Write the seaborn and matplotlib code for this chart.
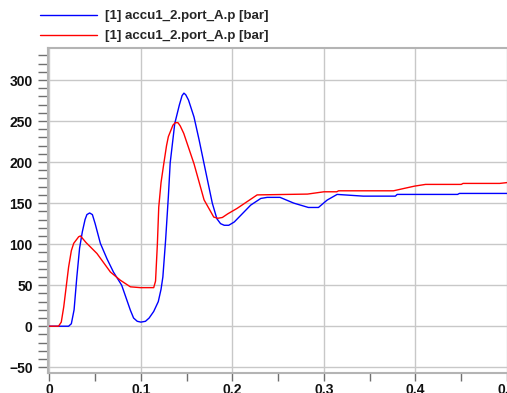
import numpy as np
import pandas as pd
import matplotlib
matplotlib.use("Agg")
import matplotlib.pyplot as plt
import seaborn as sns
from matplotlib.ticker import MultipleLocator

# Data
blue_x = [0, 0.021, 0.024, 0.027, 0.030, 0.033, 0.036, 0.039, 0.041, 0.044, 0.047, 0.050, 0.0557,
          0.063, 0.070, 0.079, 0.0885, 0.092, 0.096, 0.100, 0.105, 0.109, 0.114, 0.119, 0.122,
          0.124, 0.127, 0.130, 0.132, 0.137, 0.142, 0.145, 0.147, 0.149, 0.152, 0.158, 0.1636,
          0.169, 0.178, 0.183, 0.187, 0.191, 0.196, 0.202, 0.209, 0.220, 0.231, 0.238,
          0.252, 0.267, 0.283, 0.294, 0.3035, 0.3144, 0.343, 0.378, 0.38, 0.446, 0.448, 0.5]
blue_y = [0, 0, 3, 20, 60, 95, 115, 130, 136, 138, 136, 125, 101,
          82, 66, 50, 19.5, 10, 6, 5, 6, 10, 18, 30, 45,
          60, 105, 158, 199, 247, 269.5, 281, 284, 282, 275.6, 255, 227,
          198, 150, 131, 125, 123, 123, 127, 135, 147.6, 155.7, 157,
          157, 150, 144.7, 144.7, 153.7, 160.6, 158.5, 158.5, 160.6, 160.6, 161.8, 161.8]

red_x = [0, 0.010, 0.013, 0.0157, 0.021, 0.024, 0.0266, 0.030, 0.032, 0.034, 0.037, 0.040, 0.052,
         0.0667, 0.0776, 0.0885, 0.0995, 0.114, 0.116, 0.118, 0.1195, 0.122, 0.125, 0.128, 0.130,
         0.135, 0.1375, 0.1405, 0.143, 0.1468, 0.158, 0.169, 0.1796, 0.184, 0.189, 0.195, 0.205,
         0.227, 0.282, 0.30, 0.314, 0.316, 0.376, 0.388, 0.399, 0.411, 0.45,
         0.452, 0.492, 0.5]
red_y = [0, 0, 5, 23.6, 72, 92, 101, 106, 109, 110, 106, 102, 88.6,
         66, 56, 48, 47, 47, 55, 100, 145, 175, 198, 220, 231,
         245, 248, 248, 244, 235, 198, 154, 133, 131.5, 132.5, 137, 143.5,
         160, 161, 163.8, 163.8, 165, 165, 168, 170.7, 172.8, 172.8,
         174, 174, 175]

series_label = "[1] accu1_2.port_A.p [bar]"
x_ticks = [0, 0.1, 0.2, 0.3, 0.4, 0.5]
x_ticklabels = ["0", "0.1", "0.2", "0.3", "0.4", "0.5"]
y_ticks = [-50, 0, 50, 100, 150, 200, 250, 300]

sns.set_theme(style="white")
plt.rcParams['font.family'] = ['Liberation Sans', 'DejaVu Sans']

fig = plt.figure(figsize=(5.07, 3.93), dpi=100)
ax = fig.add_axes([48/507, 20/393, 1 - 48/507, (373-48)/393])

df_b = pd.DataFrame({"t": blue_x, "p": blue_y})
df_r = pd.DataFrame({"t": red_x, "p": red_y})
sns.lineplot(data=df_b, x="t", y="p", ax=ax, color="#0000ff", linewidth=1.0, label=series_label)
sns.lineplot(data=df_r, x="t", y="p", ax=ax, color="#ff0000", linewidth=1.0, label=series_label)

ax.set_xlim(-0.0015, 0.5)
ax.set_ylim(-57, 339)
ax.set_xticks(x_ticks)
ax.set_xticklabels(x_ticklabels)
ax.set_yticks(y_ticks)
ax.xaxis.set_minor_locator(MultipleLocator(0.05))
ax.yaxis.set_minor_locator(MultipleLocator(10))
ax.set_xlabel("")
ax.set_ylabel("")

ax.grid(True, which="major", color="#c8c8c8", linewidth=1.0)
ax.set_axisbelow(True)
for s in ax.spines.values():
    s.set_color("#b4b4b4")
    s.set_linewidth(1.5)
ax.spines["right"].set_visible(False)

ax.tick_params(axis="both", which="both", direction="out", color="#707070", width=1.0,
               labelsize=10)
ax.tick_params(axis="y", which="both", length=7, pad=4, left=True)
ax.tick_params(axis="x", which="both", length=6, pad=1.5, bottom=True)
for lab in ax.get_xticklabels() + ax.get_yticklabels():
    lab.set_fontweight("bold")
    lab.set_color("#111111")

leg = ax.legend(loc="upper left", bbox_to_anchor=(40/507, 1 - 10/393), bbox_transform=fig.transFigure,
                frameon=False, handlelength=4.3, handletextpad=0.6, labelspacing=0.6,
                borderpad=0, borderaxespad=0, prop={"weight": "bold", "size": 9.5})
for line in leg.get_lines():
    line.set_linewidth(1.0)

fig.savefig("out.png", dpi=100)
